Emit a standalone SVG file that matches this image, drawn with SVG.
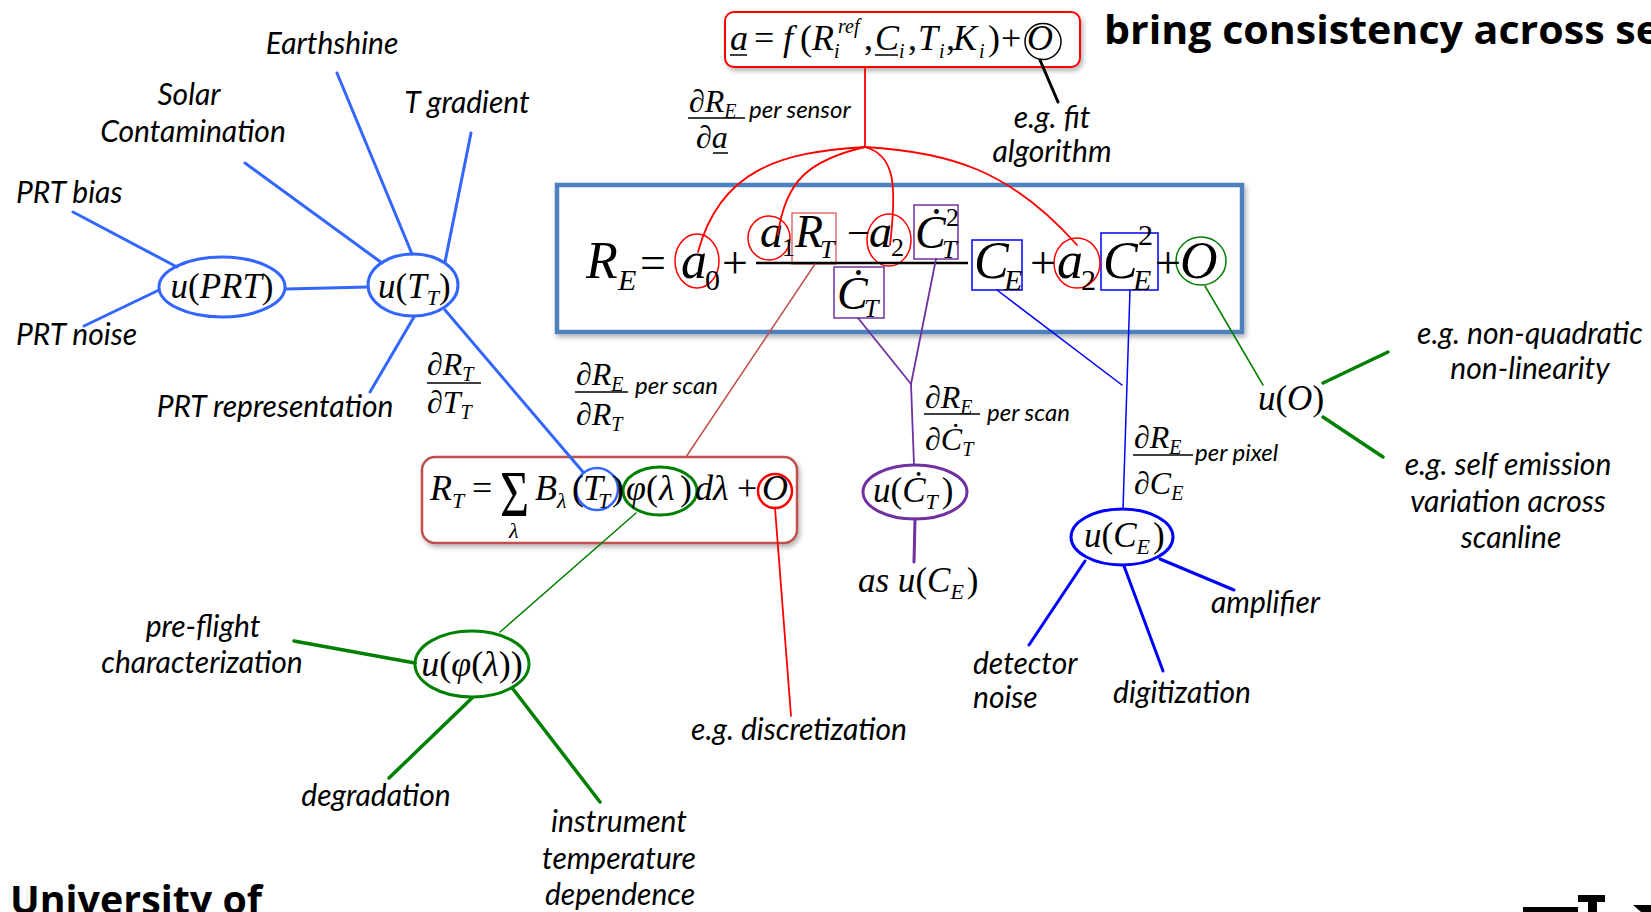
<svg xmlns="http://www.w3.org/2000/svg" width="1651" height="912" viewBox="0 0 1651 912">
<defs>
<filter id="sh" x="-10%" y="-10%" width="120%" height="130%"><feDropShadow dx="2" dy="3" stdDeviation="2.5" flood-color="#000" flood-opacity="0.3"/></filter>
<style>
.lbl{font-family:Lato,"Open Sans","Liberation Sans",sans-serif;font-style:italic;font-size:30px;fill:#000;text-anchor:middle}
.st{text-anchor:start}
.sm{font-family:Lato,"Open Sans","Liberation Sans",sans-serif;font-style:italic;font-size:24px;fill:#000}
.m{font-family:"Liberation Serif","Times New Roman",serif;font-style:italic;fill:#000}
.u{font-style:normal}
.bold{font-family:"Open Sans",Lato,"Liberation Sans",sans-serif;font-weight:bold;fill:#000}
.bl{stroke:#3366FF;stroke-width:3;fill:none}
.rd{stroke:#FF0000;stroke-width:1.8;fill:none}
.pu{stroke:#7030A0;stroke-width:1.8;fill:none}
.b0{stroke:#0000FF;stroke-width:1.5;fill:none}
.b3{stroke:#0000FF;stroke-width:3;fill:none}
.g1{stroke:#008000;stroke-width:1.5;fill:none}
.g3{stroke:#008000;stroke-width:3.5;fill:none}
</style>
</defs>
<rect width="1651" height="912" fill="#fff"/>

<g id="title"><text class="bold" x="1104" y="44" font-size="40" textLength="556" lengthAdjust="spacingAndGlyphs">bring consistency across se</text></g>
<g id="university"><text class="bold" x="10" y="914" font-size="40" textLength="252" lengthAdjust="spacingAndGlyphs">University of</text></g>
<g id="logo-fragment" fill="#000"><rect x="1523" y="907" width="55" height="6"/><rect x="1578" y="895" width="27" height="7"/><rect x="1588" y="901" width="9" height="12"/><polygon points="1633,905 1651,905 1651,912 1641,912"/></g>

<!-- main equation box -->
<g id="main-eq">
<rect x="557" y="185" width="685" height="147" fill="#fff" stroke="#4F81BD" stroke-width="4.5" filter="url(#sh)"/>
<rect x="792" y="213" width="44" height="51" fill="none" stroke="#E07070" stroke-width="1.5"/>
<rect x="914" y="205" width="44" height="54" fill="none" stroke="#7030A0" stroke-width="1.5"/>
<rect x="834" y="267" width="50" height="51" fill="none" stroke="#7030A0" stroke-width="1.5"/>
<rect x="972" y="240" width="50" height="50" fill="none" stroke="#0000FF" stroke-width="1.5"/>
<rect x="1101" y="233" width="57" height="57" fill="none" stroke="#0000FF" stroke-width="1.5"/>
<ellipse cx="697" cy="261" rx="22" ry="27" fill="none" stroke="#FF0000" stroke-width="1.5"/>
<ellipse cx="769" cy="238" rx="21" ry="22" fill="none" stroke="#FF0000" stroke-width="1.5"/>
<ellipse cx="889" cy="240" rx="22" ry="26" fill="none" stroke="#FF0000" stroke-width="1.5"/>
<ellipse cx="1077" cy="263" rx="23" ry="25" fill="none" stroke="#FF0000" stroke-width="1.5"/>
<ellipse cx="1201" cy="261" rx="25" ry="24" fill="none" stroke="#008000" stroke-width="1.5"/>
<g class="m" font-size="52">
<text x="586" y="278">R</text><text x="618" y="290" font-size="30">E</text>
<text x="640" y="278" class="u" font-size="46">=</text>
<text x="681" y="278">a</text><text x="705" y="290" class="u" font-size="30">0</text>
<text x="722" y="278" class="u" font-size="46">+</text>
<text x="760" y="247" font-size="46">a</text><text x="782" y="256" class="u" font-size="26">1</text>
<text x="795" y="247" font-size="46">R</text><text x="820" y="258" font-size="26">T</text>
<text x="847" y="246" class="u" font-size="40">−</text>
<text x="869" y="247" font-size="46">a</text><text x="891" y="256" class="u" font-size="26">2</text>
<text x="915" y="248" font-size="46">Ċ</text><text x="946" y="226" class="u" font-size="26">2</text><text x="942" y="258" font-size="26">T</text>
<text x="837" y="309" font-size="46">Ċ</text><text x="864" y="317" font-size="26">T</text>
<text x="974" y="278">C</text><text x="1004" y="290" font-size="30">E</text>
<text x="1030" y="278" class="u" font-size="46">+</text>
<text x="1057" y="278">a</text><text x="1081" y="290" class="u" font-size="30">2</text>
<text x="1103" y="278">C</text><text x="1138" y="245" class="u" font-size="30">2</text><text x="1133" y="290" font-size="30">E</text>
<text x="1155" y="278" class="u" font-size="46">+</text>
<text x="1180" y="278">O</text>
</g>
<line x1="756" y1="263" x2="968" y2="263" stroke="#000" stroke-width="2.5"/>
</g>

<!-- top formula box -->
<g id="fit-eq">
<rect x="725" y="12" width="355" height="55" rx="9" fill="#fff" stroke="#FF0000" stroke-width="2" filter="url(#sh)"/>
<circle cx="1043" cy="41.5" r="18" fill="none" stroke="#000" stroke-width="1.5"/>
<g class="m" font-size="36">
<text x="730" y="50">a</text>
<text x="754" y="50" class="u">=</text>
<text x="783" y="50">f</text>
<text x="800" y="50" class="u">(</text>
<text x="812" y="50">R</text><text x="838" y="33" font-size="20">ref</text><text x="834" y="58" font-size="20">i</text>
<text x="864" y="50" class="u">,</text>
<text x="875" y="50">C</text><text x="899" y="58" font-size="20">i</text>
<text x="908" y="50" class="u">,</text>
<text x="918" y="50">T</text><text x="939" y="58" font-size="20">i</text>
<text x="946" y="50" class="u">,</text>
<text x="953" y="50">K</text><text x="979" y="58" font-size="20">i</text>
<text x="988" y="50" class="u">)</text>
<text x="1001" y="50" class="u">+</text>
<text x="1027" y="50">O</text>
</g>
<line x1="730" y1="55" x2="747" y2="55" stroke="#000" stroke-width="1.5"/>
<line x1="875" y1="55" x2="898" y2="55" stroke="#000" stroke-width="1.5"/>
</g>

<!-- R_T formula box -->
<g id="rt-eq">
<rect x="422" y="457" width="375" height="86" rx="13" fill="#fff" stroke="#C0504D" stroke-width="2.5" filter="url(#sh)"/>
<circle cx="597" cy="489" r="21" fill="none" stroke="#3366FF" stroke-width="2.5"/>
<ellipse cx="660" cy="491" rx="37" ry="24" fill="none" stroke="#008000" stroke-width="3"/>
<circle cx="775" cy="491" r="17" fill="none" stroke="#FF0000" stroke-width="2.5"/>
<g class="m" font-size="36">
<text x="430" y="500">R</text><text x="452" y="508" font-size="22">T</text>
<text x="472" y="500" class="u">=</text>
<text transform="translate(500,516) scale(1,1.33)" font-size="50" class="u">Σ</text>
<text x="509" y="538" font-size="22">λ</text>
<text x="535" y="500">B</text><text x="557" y="508" font-size="22">λ</text>
<text x="572" y="500" class="u">(</text>
<text x="583" y="500">T</text><text x="598" y="508" font-size="22">T</text>
<text x="612" y="500" class="u">)</text>
<text x="626" y="500">φ</text>
<text x="646" y="500" class="u">(</text>
<text x="659" y="500">λ</text>
<text x="680" y="500" class="u">)</text>
<text x="695" y="500">d</text>
<text x="713" y="500">λ</text>
<text x="737" y="500" class="u">+</text>
<text x="762" y="500">O</text>
</g>
</g>

<!-- uncertainty nodes -->
<g id="u-prt">
<ellipse cx="222" cy="287" rx="63" ry="30" fill="#fff" stroke="#3366FF" stroke-width="3"/>
<text class="m" font-size="35" x="222" y="298" text-anchor="middle">u<tspan class="u">(</tspan>PRT<tspan class="u">)</tspan></text>
</g>
<g id="u-tt">
<ellipse cx="413" cy="285" rx="45" ry="31" fill="#fff" stroke="#3366FF" stroke-width="3"/>
<text class="m" font-size="35" x="378" y="298">u<tspan class="u">(</tspan>T<tspan font-size="22" dy="7">T</tspan><tspan class="u" dy="-7">)</tspan></text>
</g>
<g id="u-ct">
<ellipse cx="915" cy="492" rx="52" ry="27" fill="#fff" stroke="#7030A0" stroke-width="3"/>
<text class="m" font-size="35" x="873" y="502">u<tspan class="u">(</tspan>Ċ<tspan font-size="22" dy="7">T</tspan><tspan class="u" dy="-7" dx="4">)</tspan></text>
</g>
<g id="as-uce">
<text class="m" font-size="35" x="858" y="592">as u<tspan class="u">(</tspan>C<tspan font-size="22" dy="7">E</tspan><tspan class="u" dy="-7" dx="3">)</tspan></text>
</g>
<g id="u-ce">
<ellipse cx="1122" cy="537" rx="51" ry="28" fill="#fff" stroke="#0000FF" stroke-width="3"/>
<text class="m" font-size="35" x="1084" y="547">u<tspan class="u">(</tspan>C<tspan font-size="22" dy="7">E</tspan><tspan class="u" dy="-7" dx="3">)</tspan></text>
</g>
<g id="u-o">
<text class="m" font-size="35" x="1291" y="410" text-anchor="middle">u<tspan class="u">(</tspan>O<tspan class="u">)</tspan></text>
</g>
<g id="u-phi">
<ellipse cx="472" cy="664" rx="57" ry="33" fill="#fff" stroke="#008000" stroke-width="3"/>
<text class="m" font-size="36" x="472" y="676" text-anchor="middle">u<tspan class="u">(</tspan>φ<tspan class="u">(</tspan>λ<tspan class="u">))</tspan></text>
</g>

<!-- derivative labels -->
<g id="d-sensor" class="m" font-size="32">
<text x="689" y="112">∂R<tspan font-size="20" dy="6">E</tspan></text>
<line x1="688" y1="118" x2="745" y2="118" stroke="#000" stroke-width="1.5"/>
<text x="696" y="148">∂a</text>
<line x1="713" y1="153" x2="728" y2="153" stroke="#000" stroke-width="1.5"/>
<text class="sm st" x="749" y="118">per sensor</text>
</g>
<g id="d-tt" class="m" font-size="32">
<text x="427" y="375">∂R<tspan font-size="20" dy="6">T</tspan></text>
<line x1="427" y1="383" x2="481" y2="383" stroke="#000" stroke-width="1.5"/>
<text x="427" y="413">∂T<tspan font-size="20" dy="6">T</tspan></text>
</g>
<g id="d-rt" class="m" font-size="32">
<text x="576" y="385">∂R<tspan font-size="20" dy="6">E</tspan></text>
<line x1="575" y1="392" x2="628" y2="392" stroke="#000" stroke-width="1.5"/>
<text x="576" y="425">∂R<tspan font-size="20" dy="6">T</tspan></text>
<text class="sm st" x="635" y="394">per scan</text>
</g>
<g id="d-ct" class="m" font-size="32">
<text x="925" y="408">∂R<tspan font-size="20" dy="6">E</tspan></text>
<line x1="924" y1="414" x2="980" y2="414" stroke="#000" stroke-width="1.5"/>
<text x="925" y="450">∂Ċ<tspan font-size="20" dy="6">T</tspan></text>
<text class="sm st" x="987" y="421">per scan</text>
</g>
<g id="d-ce" class="m" font-size="32">
<text x="1134" y="448">∂R<tspan font-size="20" dy="6">E</tspan></text>
<line x1="1133" y1="455" x2="1193" y2="455" stroke="#000" stroke-width="1.5"/>
<text x="1134" y="494">∂C<tspan font-size="20" dy="6">E</tspan></text>
<text class="sm st" x="1195" y="461">per pixel</text>
</g>

<!-- text labels -->
<g id="lbl-earthshine"><text class="lbl" x="332" y="54">Earthshine</text></g>
<g id="lbl-solar"><text class="lbl" x="189" y="105">Solar</text><text class="lbl" x="193" y="142">Contamination</text></g>
<g id="lbl-tgrad"><text class="lbl" x="467" y="113">T gradient</text></g>
<g id="lbl-prtbias"><text class="lbl st" x="16" y="203">PRT bias</text></g>
<g id="lbl-prtnoise"><text class="lbl st" x="16" y="345">PRT noise</text></g>
<g id="lbl-prtrep"><text class="lbl" x="275" y="417">PRT representation</text></g>
<g id="lbl-fit"><text class="lbl" x="1052" y="128">e.g. fit</text><text class="lbl" x="1052" y="162">algorithm</text></g>
<g id="lbl-nonquad"><text class="lbl" x="1530" y="344">e.g. non-quadratic</text><text class="lbl" x="1530" y="379">non-linearity</text></g>
<g id="lbl-self"><text class="lbl" x="1508" y="475">e.g. self emission</text><text class="lbl" x="1508" y="512">variation across</text><text class="lbl" x="1511" y="548">scanline</text></g>
<g id="lbl-amp"><text class="lbl st" x="1211" y="613">amplifier</text></g>
<g id="lbl-det"><text class="lbl st" x="973" y="674">detector</text><text class="lbl st" x="973" y="708">noise</text></g>
<g id="lbl-dig"><text class="lbl" x="1182" y="703">digitization</text></g>
<g id="lbl-disc"><text class="lbl" x="799" y="740">e.g. discretization</text></g>
<g id="lbl-preflight"><text class="lbl" x="203" y="637">pre-flight</text><text class="lbl" x="202" y="673">characterization</text></g>
<g id="lbl-degr"><text class="lbl" x="376" y="806">degradation</text></g>
<g id="lbl-instr"><text class="lbl" x="619" y="832">instrument</text><text class="lbl" x="619" y="869">temperature</text><text class="lbl" x="620" y="905">dependence</text></g>

<!-- connectors -->
<g id="connectors" stroke-linecap="round">
<line class="bl" x1="73" y1="212" x2="177" y2="267"/>
<line class="bl" x1="84" y1="326" x2="159" y2="290"/>
<line class="bl" x1="286" y1="289" x2="368" y2="287"/>
<line class="bl" x1="245" y1="163" x2="382" y2="263"/>
<line class="bl" x1="337" y1="73" x2="412" y2="254"/>
<line class="bl" x1="471" y1="133" x2="445" y2="262"/>
<line class="bl" x1="370" y1="392" x2="414" y2="317"/>
<line class="bl" x1="445" y1="310" x2="583" y2="472"/>
<line class="rd" x1="865" y1="67" x2="865" y2="147"/>
<path class="rd" d="M865,147 C780,152 720,170 698,252"/>
<path class="rd" d="M865,147 C810,160 785,180 778,235"/>
<path class="rd" d="M865,147 C895,155 897,185 890,245"/>
<path class="rd" d="M865,147 C950,152 1010,170 1077,245"/>
<line x1="1040" y1="60" x2="1058" y2="102" stroke="#000" stroke-width="3"/>
<line x1="815" y1="264" x2="686" y2="457" stroke="#C0504D" stroke-width="1.5"/>
<line class="pu" x1="858" y1="318" x2="911" y2="384"/>
<line class="pu" x1="936" y1="259" x2="911" y2="384"/>
<line class="pu" x1="911" y1="384" x2="914" y2="465"/>
<line x1="915" y1="519" x2="914" y2="562" stroke="#7030A0" stroke-width="3"/>
<line class="b0" x1="997" y1="290" x2="1122" y2="385"/>
<line class="b0" x1="1130" y1="290" x2="1123" y2="509"/>
<line class="b3" x1="1085" y1="561" x2="1029" y2="645"/>
<line class="b3" x1="1124" y1="566" x2="1163" y2="671"/>
<line class="b3" x1="1160" y1="559" x2="1234" y2="590"/>
<line class="g1" x1="1205" y1="286" x2="1263" y2="385"/>
<line class="g1" x1="636" y1="513" x2="500" y2="632"/>
<line class="g3" x1="1323" y1="383" x2="1388" y2="352"/>
<line class="g3" x1="1323" y1="417" x2="1383" y2="457"/>
<line class="g3" x1="294" y1="641" x2="415" y2="663"/>
<line class="g3" x1="472" y1="698" x2="389" y2="778"/>
<line class="g3" x1="513" y1="689" x2="600" y2="802"/>
<line class="rd" x1="775" y1="508" x2="791" y2="716"/>
</g>
</svg>
